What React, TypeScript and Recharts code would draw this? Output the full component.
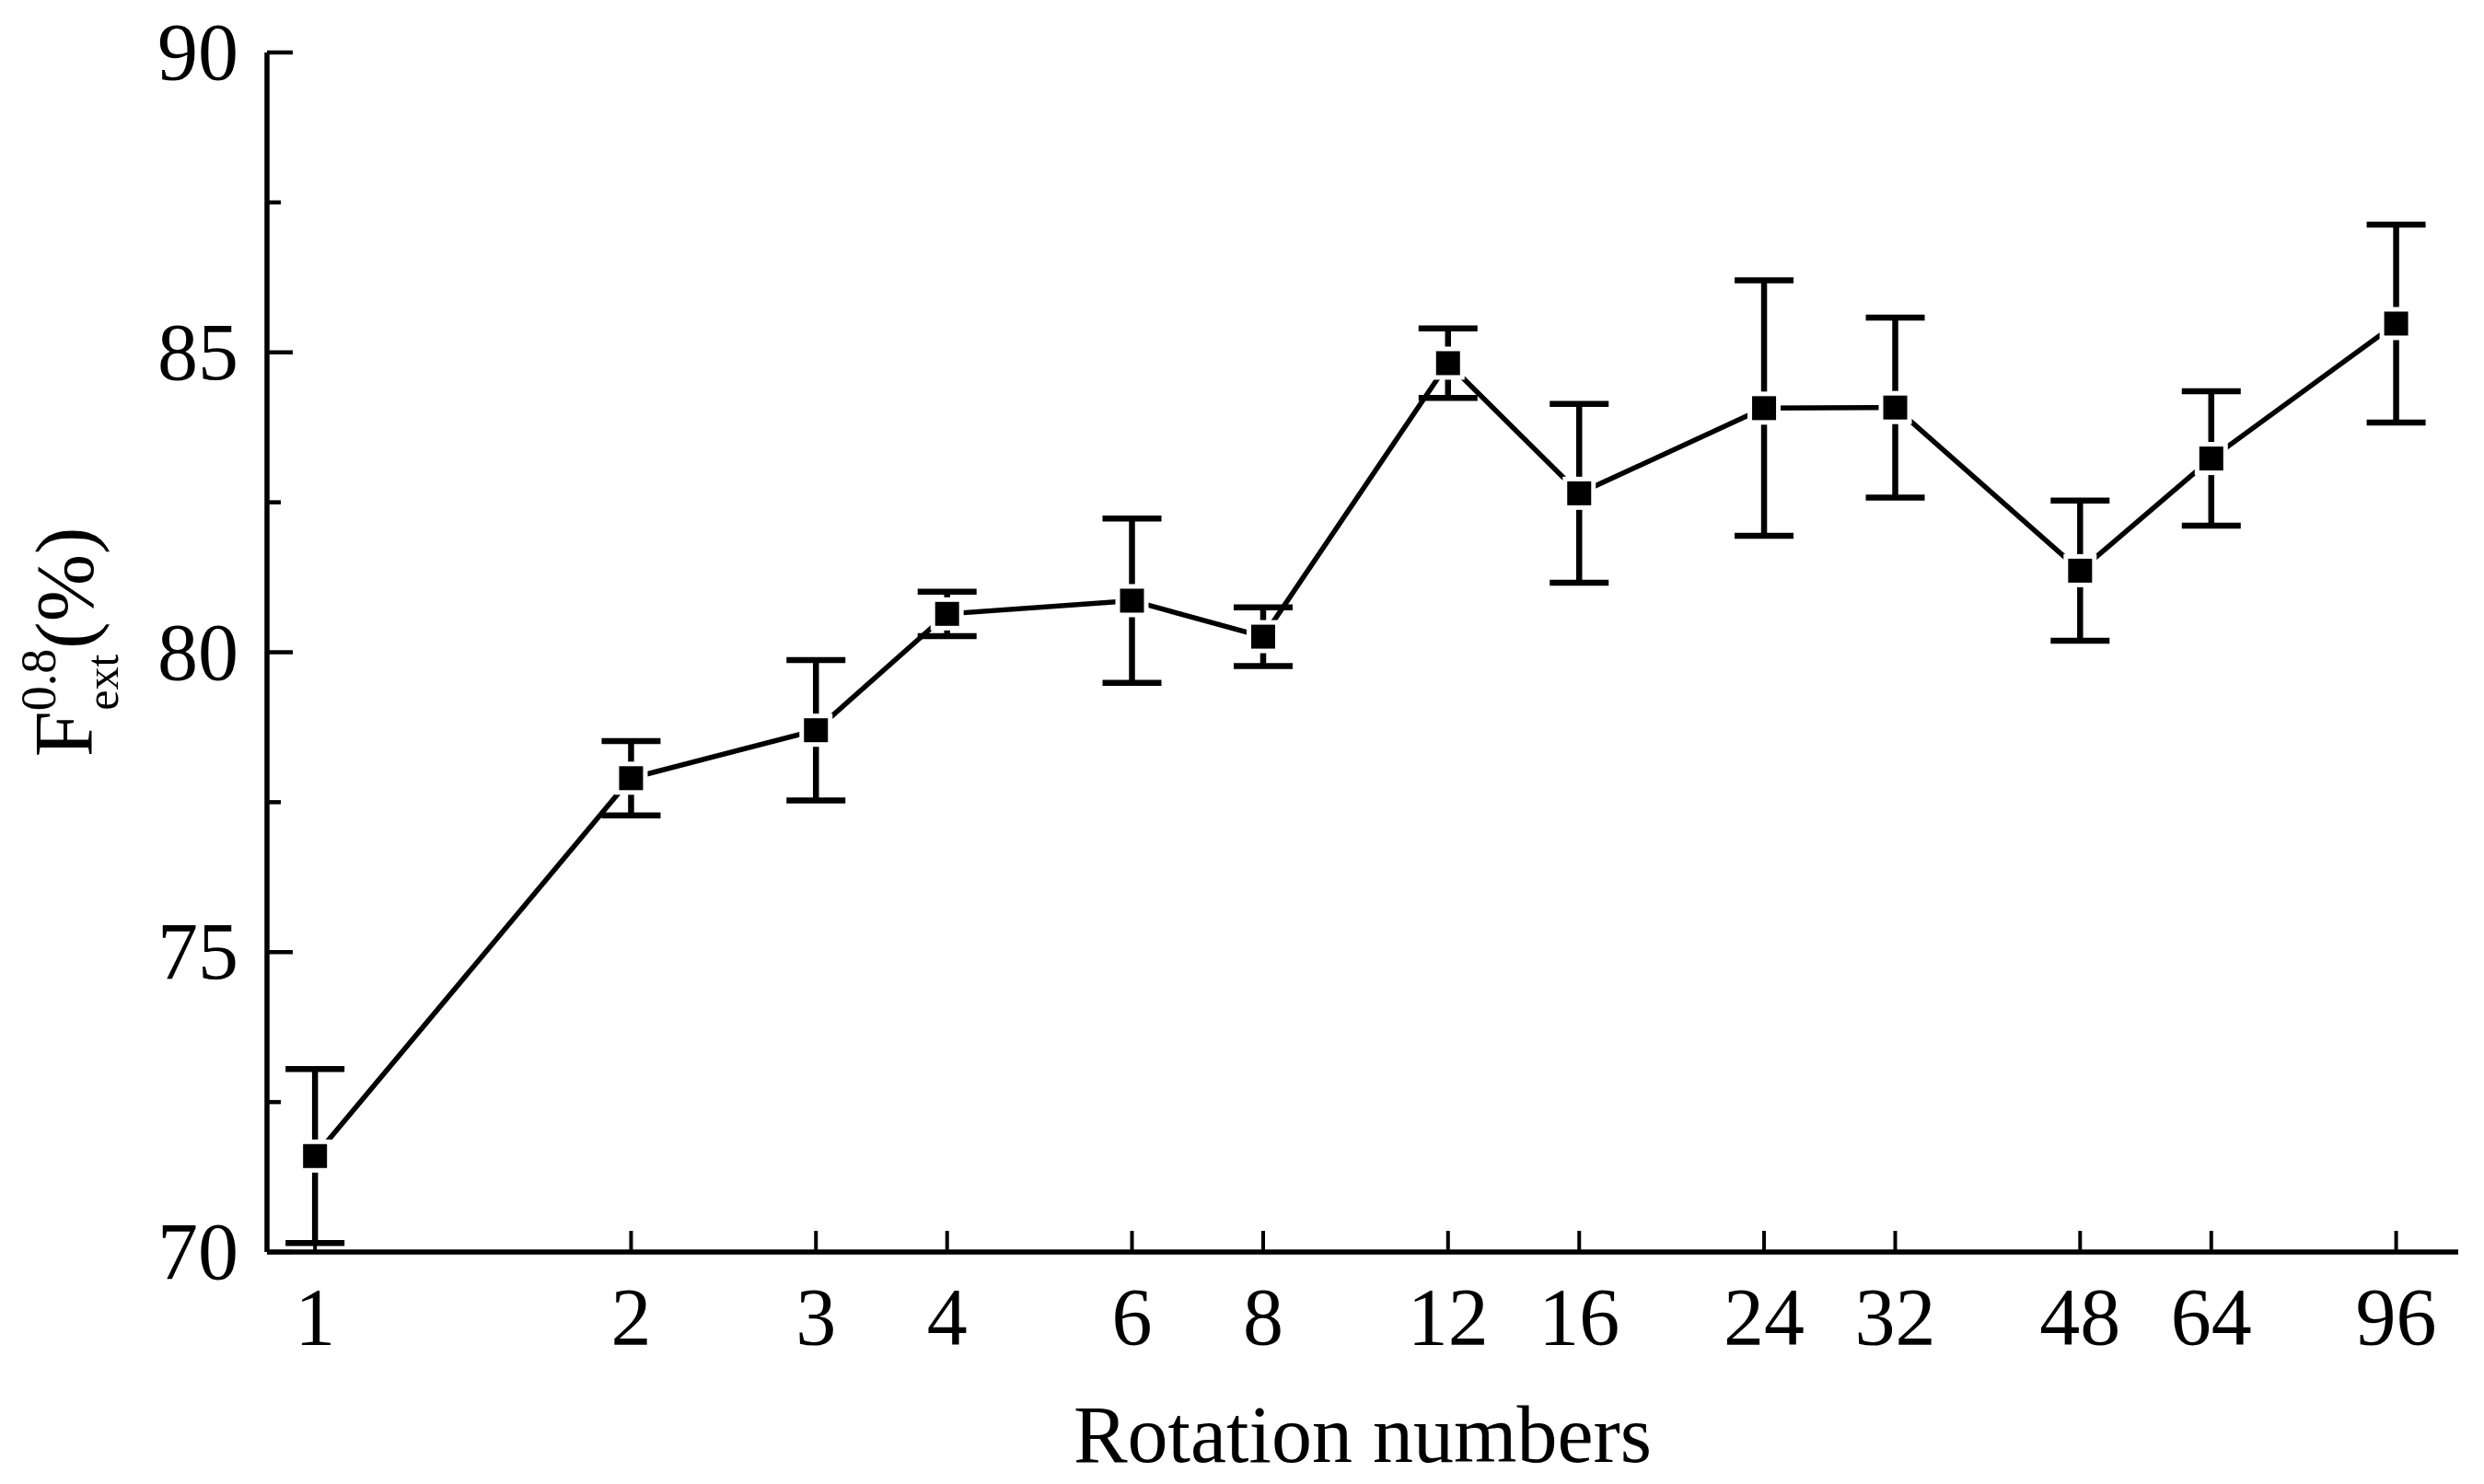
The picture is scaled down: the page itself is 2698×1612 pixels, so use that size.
import React from 'react';
import { LineChart, Line, XAxis, YAxis, ErrorBar } from 'recharts';

const FONT = "'Liberation Serif', 'Times New Roman', serif";

const rotations = [1, 2, 3, 4, 6, 8, 12, 16, 24, 32, 48, 64, 96];
const fextValues = [71.6, 77.9, 78.7, 80.64, 80.86, 80.26, 84.82, 82.65, 84.07, 84.08, 81.36, 83.23, 85.48];
const fextErrors = [1.45, 0.62, 1.17, 0.37, 1.37, 0.49, 0.58, 1.49, 2.13, 1.5, 1.17, 1.12, 1.65];
const yTicks = [70, 72.5, 75, 77.5, 80, 82.5, 85, 87.5, 90];
const yLabelTicks = [70, 75, 80, 85, 90];
const xDomain = [0.9, 110];
const yDomain = [70, 90];

const data = rotations.map((r, i) => ({ r, v: fextValues[i], e: fextErrors[i] }));

const XTick = (props: any) => {
  const { x, y, payload } = props;
  return (
    <g>
      <line x1={x} y1={y} x2={x} y2={y - 23} stroke="#000" strokeWidth={4} />
      <text x={x} y={y + 100} textAnchor="middle" fontSize={88} fontFamily={FONT} fill="#000">
        {payload.value}
      </text>
    </g>
  );
};

const YTick = (props: any) => {
  const { x, y, payload } = props;
  const major = yLabelTicks.includes(payload.value);
  return (
    <g>
      <line x1={x} y1={y} x2={x + (major ? 28 : 15)} y2={y} stroke="#000" strokeWidth={4.5} />
      {major && (
        <text x={x - 31} y={y} dy={29} textAnchor="end" fontSize={88} fontFamily={FONT} fill="#000">
          {payload.value}
        </text>
      )}
    </g>
  );
};

const XTitle = (props: any) => {
  const vb = props.viewBox || {};
  return (
    <text x={vb.x + vb.width / 2} y={vb.y + 228} textAnchor="middle" fontSize={88} fontFamily={FONT} fill="#000">
      Rotation numbers
    </text>
  );
};

const YTitle = (props: any) => {
  const vb = props.viewBox || {};
  const cx = vb.x + 100;
  const cy = vb.y + vb.height / 2 - 11;
  return (
    <text
      transform={`translate(${cx},${cy}) rotate(-90)`}
      x={0}
      y={0}
      textAnchor="middle"
      fontFamily={FONT}
      fill="#000"
      fontSize={88}
    >
      <tspan fontSize={90}>F</tspan>
      <tspan fontSize={54} dy={-40}>0.8</tspan>
      <tspan fontSize={50} dx={-67} dy={68}>ext</tspan>
      <tspan fontSize={88} dx={6} dy={-28}>(%)</tspan>
    </text>
  );
};

const GapDot = (props: any) => {
  const { cx, cy, index } = props;
  if (cx == null || cy == null) return <g key={`g-${index}`} />;
  return <rect key={`g-${index}`} x={cx - 18} y={cy - 18} width={36} height={36} fill="#fff" />;
};

const BlackDot = (props: any) => {
  const { cx, cy, index } = props;
  if (cx == null || cy == null) return <g key={`b-${index}`} />;
  return <rect key={`b-${index}`} x={cx - 13} y={cy - 13} width={26} height={26} fill="#000" />;
};

export default function App() {
  return (
    <div style={{ position: 'absolute', left: 0, top: 0, width: 2698, height: 1612, background: '#fff' }}>
      <LineChart
        width={2698}
        height={1612}
        data={data}
        margin={{ top: 57, right: 28, left: 0, bottom: 0 }}
      >
        <XAxis
          dataKey="r"
          type="number"
          scale="log"
          domain={xDomain}
          allowDataOverflow
          ticks={rotations}
          interval={0}
          height={252}
          tickSize={0}
          tickMargin={0}
          tickLine={false}
          axisLine={{ stroke: '#000', strokeWidth: 5.5 }}
          tick={<XTick />}
          label={<XTitle />}
        />
        <XAxis
          xAxisId="top"
          dataKey="r"
          type="number"
          scale="log"
          domain={xDomain}
          allowDataOverflow
          orientation="top"
          height={0}
          tick={false}
          tickLine={false}
          axisLine={{ stroke: '#000', strokeWidth: 5 }}
        />
        <YAxis
          type="number"
          domain={yDomain}
          ticks={yTicks}
          interval={0}
          width={290}
          tickSize={0}
          tickMargin={0}
          tickLine={false}
          axisLine={{ stroke: '#000', strokeWidth: 5.5 }}
          tick={<YTick />}
          label={<YTitle />}
        />
        <YAxis
          yAxisId="right"
          orientation="right"
          type="number"
          domain={yDomain}
          width={0}
          tick={false}
          tickLine={false}
          axisLine={{ stroke: '#000', strokeWidth: 4.5 }}
        />
        <Line
          type="linear"
          dataKey="v"
          stroke="#000"
          strokeWidth={5.5}
          dot={GapDot}
          activeDot={false}
          isAnimationActive={false}
        />
        <Line
          type="linear"
          dataKey="v"
          stroke="none"
          strokeWidth={0}
          dot={BlackDot}
          activeDot={false}
          isAnimationActive={false}
        >
          <ErrorBar dataKey="e" width={32} strokeWidth={6.5} stroke="#000" direction="y" />
        </Line>
      </LineChart>
    </div>
  );
}
